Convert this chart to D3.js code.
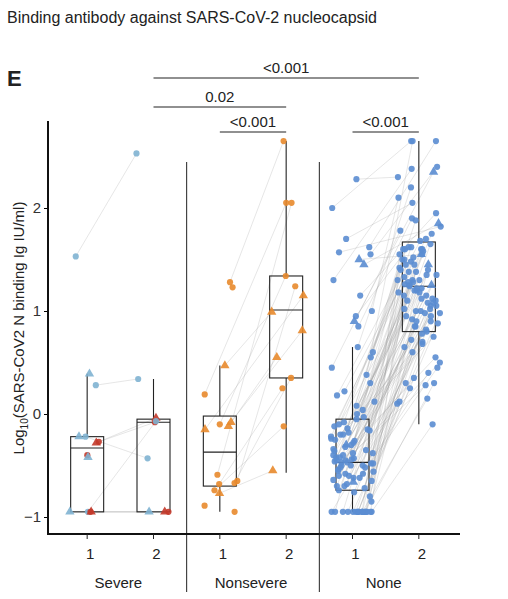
<!DOCTYPE html><html><head><meta charset="utf-8"><script src="https://cdn.jsdelivr.net/npm/d3@7"></script>
<style>body{margin:0;background:#fff}text{font-family:Arial,"Liberation Sans",sans-serif}</style></head><body>
<svg id="c" width="508" height="599"></svg>
<script>
const groups=["Severe","Nonsevere","None"];
const timepoints=["1","2"];
const yTicks=[-1,0,1,2];
// box stats: [group, time, low, q1, median, q3, high]
const boxStats=[
["Severe","1",-0.95,-0.95,-0.33,-0.22,0.39],["Severe","2",-0.95,-0.95,-0.08,-0.05,0.34],
["Nonsevere","1",-0.95,-0.70,-0.37,-0.02,0.47],["Nonsevere","2",-0.57,0.35,1.01,1.34,2.65],
["None","1",-0.95,-0.74,-0.47,-0.05,0.65],["None","2",-0.10,0.80,1.24,1.67,2.65]];
const severePairs=[[1.53,2.53,"c","b"],[0.28,0.34,"c","b"],[0.39,null,"t","b"],[-0.22,-0.43,"c","b"],[-0.22,null,"t","b"],[-0.27,-0.08,"c","r"],[-0.28,-0.04,"t","r"],[-0.40,null,"c","r"],[-0.42,null,"t","b"],[-0.95,-0.07,"c","b"],[-0.95,-0.95,"t","b"],[-0.95,-0.95,"c","r"],[-0.95,-0.95,"t","r"]];
const nonseverePairs=[[1.28,2.65,"c"],[1.23,null,"c"],[0.47,0.99,"t"],[0.19,2.05,"c"],[-0.10,1.34,"c"],[-0.08,0.81,"t"],[-0.12,0.55,"t"],[-0.15,1.15,"t"],[-0.59,2.05,"c"],[-0.65,1.24,"c"],[-0.67,0.35,"c"],[-0.68,0.25,"c"],[-0.74,-0.12,"c"],[-0.77,-0.55,"t"],[-0.89,null,"c"],[-0.95,null,"c"]];
const noneT1=[2.28,2.0,1.7,1.62,1.57,1.55,1.5,1.45,1.3,1.15,1.0,0.95,0.9,0.85,0.65,0.6,0.55,0.45,0.38,0.3,
0.22,0.18,0.12,0.08,0.04,0.0,-0.03,-0.05,-0.08,-0.1,-0.12,-0.14,-0.16,-0.18,-0.2,-0.22,-0.24,-0.26,-0.28,-0.3,-0.32,-0.34,-0.36,-0.38,-0.4,-0.42,-0.43,-0.44,-0.45,-0.46,-0.47,-0.48,-0.5,-0.52,-0.54,-0.56,-0.58,-0.6,-0.62,-0.64,-0.66,-0.68,-0.7,-0.72,-0.74,-0.76,-0.8,-0.85,
-0.45,-0.48,-0.5,-0.42,-0.55,-0.6,-0.35,-0.25,-0.15,-0.65,-0.7,-0.3,-0.2,-0.4,-0.5,-0.58,-0.62,-0.47,-0.52,-0.38,
-0.95,-0.95,-0.95,-0.95,-0.95,-0.95,-0.95,-0.95,-0.95,-0.95,-0.95,-0.95,-0.95,-0.95,-0.95,-0.95,-0.95,-0.95];
const noneT2=[2.3,2.65,2.05,2.65,1.82,2.4,1.55,1.85,2.38,1.95,2.1,1.62,2.35,1.9,2.2,1.88,1.6,1.78,2.65,1.75,
1.7,1.68,1.65,1.62,1.6,1.58,1.55,1.52,1.5,1.48,1.45,1.42,1.4,1.38,1.35,1.33,1.3,1.28,1.26,1.25,1.24,1.22,1.2,1.18,1.15,1.12,1.1,1.08,1.05,1.02,1.0,0.98,0.95,0.92,0.9,0.88,0.85,0.82,0.8,1.6,1.45,1.35,1.3,1.25,1.2,1.1,1.0,0.9,
1.5,1.4,1.15,1.05,0.95,0.85,0.78,0.75,0.72,0.7,0.68,0.65,0.6,0.55,0.5,0.45,0.4,0.35,0.3,0.28,
0.25,0.15,0.1,0.3,0.12,-0.1,1.3,1.28,1.22,1.18,1.12,1.08,1.02,0.98,1.45,1.55,1.6,1.38,1.42,1.48];
const noneTriangles=[6,7,12,39,60];
const brackets=[["Severe","2","None","2","<0.001",78],["Severe","2","Nonsevere","2","0.02",107],["Nonsevere","1","Nonsevere","2","<0.001",132],["None","1","None","2","<0.001",132]];

const colors={b:"#80b3d1",r:"#c33a2b",o:"#e88a2c",n:"#5b8dd1"};
const svg=d3.select("#c");
const y=d3.scaleLinear().domain([-1,2]).range([517,208]);
const xg=d3.scaleBand().domain(groups).range([54,452]).padding(0);
const xt=d3.scalePoint().domain(timepoints).range([0,xg.bandwidth()]).padding(0.5);
const X=(g,t)=>xg(g)+xt(t);
const jit=(i,s,w)=>{const v=Math.sin(i*12.9898+s*78.233)*43758.5453;return (v-Math.floor(v)-0.5)*2*w;};

svg.append("text").attr("x",7).attr("y",23).attr("font-size",16).attr("fill","#222").text("Binding antibody against SARS-CoV-2 nucleocapsid");
svg.append("text").attr("x",7).attr("y",86).attr("font-size",22).attr("font-weight","bold").attr("fill","#222").text("E");

[xg("Nonsevere"),xg("None")].forEach(v=>svg.append("line").attr("x1",v).attr("x2",v).attr("y1",162).attr("y2",592).attr("stroke","#222").attr("stroke-width",1));

const pts=[],lines=[];
function add(g,v1,v2,shape,col,i){
  const x1=X(g,"1")+jit(i,1,g==="None"?22:18),x2=X(g,"2")+jit(i,2,g==="None"?22:18);
  if(v1!=null)pts.push({x:x1,y:y(v1),shape,col});
  if(v2!=null)pts.push({x:x2,y:y(v2),shape,col});
  if(v1!=null&&v2!=null)lines.push([x1,y(v1),x2,y(v2)]);
}
severePairs.forEach((p,i)=>add("Severe",p[0],p[1],p[2],colors[p[3]],i));
nonseverePairs.forEach((p,i)=>add("Nonsevere",p[0],p[1],p[2],colors.o,i+40));
noneT1.forEach((v,i)=>add("None",v,noneT2[i],noneTriangles.includes(i)?"t":"c",colors.n,i+100));

svg.append("g").selectAll("line").data(lines).join("line").attr("x1",d=>d[0]).attr("y1",d=>d[1]).attr("x2",d=>d[2]).attr("y2",d=>d[3]).attr("stroke","#999").attr("stroke-opacity",0.35).attr("stroke-width",0.7);

const bw=33;
const bg=svg.append("g").attr("stroke","#222").attr("fill","none").attr("stroke-width",1.1);
boxStats.forEach(b=>{const cx=X(b[0],b[1]);
  bg.append("line").attr("x1",cx).attr("x2",cx).attr("y1",y(b[6])).attr("y2",y(b[5]));
  bg.append("line").attr("x1",cx).attr("x2",cx).attr("y1",y(b[3])).attr("y2",y(b[2]));
  bg.append("rect").attr("x",cx-bw/2).attr("width",bw).attr("y",y(b[5])).attr("height",y(b[3])-y(b[5]));
  bg.append("line").attr("x1",cx-bw/2).attr("x2",cx+bw/2).attr("y1",y(b[4])).attr("y2",y(b[4]));
});

const tri=d3.symbol().type(d3.symbolTriangle).size(38)();
const circ=d3.symbol().type(d3.symbolCircle).size(30)();
svg.append("g").selectAll("path").data(pts).join("path")
 .attr("d",d=>d.shape==="t"?tri:circ)
 .attr("transform",d=>`translate(${d.x},${d.y})`).attr("fill",d=>d.col).attr("opacity",0.9);

const ya=svg.append("g").attr("transform","translate(48,0)").call(d3.axisLeft(y).tickValues(yTicks).tickFormat(d=>d<0?"\u2212"+(-d):d).tickSize(4));
ya.select(".domain").remove();
svg.append("line").attr("x1",48).attr("x2",48).attr("y1",121).attr("y2",535).attr("stroke","#111").attr("stroke-width",2);
ya.selectAll("text").attr("font-size",15).attr("fill","#333");
svg.append("line").attr("x1",47).attr("x2",460).attr("y1",534).attr("y2",534).attr("stroke","#111").attr("stroke-width",2);
groups.forEach(g=>timepoints.forEach(t=>{
  svg.append("line").attr("x1",X(g,t)).attr("x2",X(g,t)).attr("y1",534).attr("y2",539).attr("stroke","#222");
  svg.append("text").attr("x",X(g,t)+3).attr("y",559).attr("text-anchor","middle").attr("font-size",15).attr("fill","#222").text(t);
}));
groups.forEach(g=>svg.append("text").attr("x",xg(g)+xg.bandwidth()/2-2).attr("y",588).attr("text-anchor","middle").attr("font-size",15).attr("fill","#222").text(g));

const yl=svg.append("text").attr("transform","translate(24,328) rotate(-90)").attr("text-anchor","middle").attr("font-size",15).attr("fill","#222");
yl.append("tspan").text("Log");yl.append("tspan").attr("font-size",10).attr("dy",4).text("10");
yl.append("tspan").attr("dy",-4).text("(SARS-CoV2 N binding Ig IU/ml)");

brackets.forEach(b=>{const x1=X(b[0],b[1]),x2=X(b[2],b[3]);
  svg.append("line").attr("x1",x1).attr("x2",x2).attr("y1",b[5]).attr("y2",b[5]).attr("stroke","#222").attr("stroke-width",1.2);
  svg.append("text").attr("x",(x1+x2)/2).attr("y",b[5]-5).attr("text-anchor","middle").attr("font-size",15).attr("fill","#222").text(b[4]);
});
</script></body></html>
